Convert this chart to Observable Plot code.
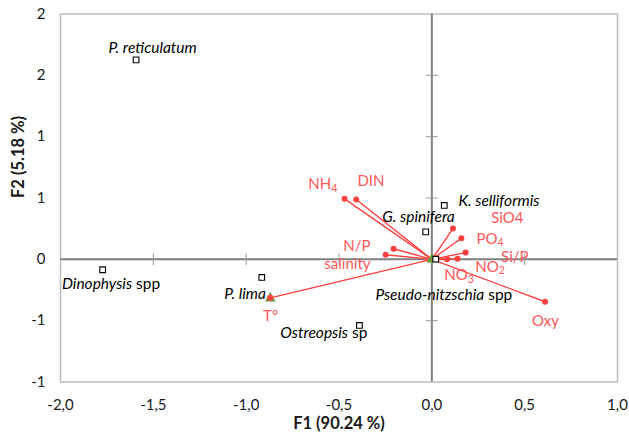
<!DOCTYPE html>
<html>
<head>
<meta charset="utf-8">
<script src="https://cdn.jsdelivr.net/npm/d3@7"></script>
<script src="https://cdn.jsdelivr.net/npm/@observablehq/plot@0.6"></script>
<style>
  html, body { margin: 0; padding: 0; background: #fff; }
  #chart { width: 629px; height: 442px; }
</style>
</head>
<body>
<div id="chart"></div>
<script>
// ---- Data ----
const xTicks = [-2, -1.5, -1, -0.5, 0, 0.5, 1];
const xTickLabels = ["-2,0", "-1,5", "-1,0", "-0,5", "0,0", "0,5", "1,0"];
const yTicks = [-1, -0.5, 0, 0.5, 1, 1.5, 2];
const yTickLabels = ["-1", "-1", "0", "1", "1", "2", "2"];
const xTitle = "F1 (90.24 %)";
const yTitle = "F2 (5.18 %)";

// Species (observations)
const speciesItalic = ["P. reticulatum", "Dinophysis", "P. lima", "Ostreopsis", "G. spinifera", "K. selliformis", "Pseudo-nitzschia"];
const speciesSuffix = ["", " spp", "", " sp", "", "", " spp"];
const speciesX = [-1.593, -1.773, -0.916, -0.390, -0.033, 0.067, 0.021];
const speciesY = [1.626, -0.085, -0.148, -0.539, 0.224, 0.439, 0.001];
const speciesLabelX = [-1.742, -1.992, -1.118, -0.816, -0.267, 0.143, -0.304];
const speciesLabelY = [1.719, -0.205, -0.280, -0.597, 0.341, 0.474, -0.290];

// Environmental variables (vectors)
const varName = ["NH", "DIN", "SiO4", "PO", "Si/P", "NO", "NO", "N/P", "salinity", "Oxy", "T°"];
const varSub  = ["4", "", "", "4", "", "2", "3", "", "", "", ""];
const varX = [-0.470, -0.407, 0.114, 0.159, 0.182, 0.139, 0.082, -0.206, -0.249, 0.610, -0.870];
const varY = [0.493, 0.488, 0.251, 0.172, 0.055, 0.004, 0.001, 0.086, 0.037, -0.346, -0.314];
const varLabelX = [-0.665, -0.401, 0.320, 0.240, 0.373, 0.234, 0.067, -0.477, -0.579, 0.540, -0.909];
const varLabelY = [0.610, 0.637, 0.333, 0.165, 0.016, -0.060, -0.132, 0.105, -0.042, -0.507, -0.467];

// Supplementary (green triangles)
const suppX = [0, -0.870];
const suppY = [0, -0.318];

// ---- Build tables ----
const species = speciesItalic.map((s, i) => ({name: s + speciesSuffix[i], x: speciesX[i], y: speciesY[i], lx: speciesLabelX[i], ly: speciesLabelY[i]}));
const vars = varName.map((s, i) => ({name: s, x: varX[i], y: varY[i], lx: varLabelX[i], ly: varLabelY[i]}));
const supp = suppX.map((x, i) => ({x, y: suppY[i]}));

const tickShape = { draw(context, l) { context.moveTo(0, 0); context.lineTo(0, -l); } };

const red = "#ff4040";
const redText = "#ff5757";
const axisGray = "#808080";
const FONT = "Lato, 'Open Sans', sans-serif";

const chart = Plot.plot({
  width: 629,
  height: 442,
  marginLeft: 60,
  marginRight: 12,
  marginTop: 13.5,
  marginBottom: 60.5,
  style: {fontFamily: FONT, fontSize: "15px", background: "#fff", color: "#000", overflow: "visible"},
  x: {domain: [-2, 1]},
  y: {domain: [-1, 2]},
  marks: [
    Plot.frame({stroke: "#bdbdbd", strokeWidth: 1.5}),
    Plot.axisX({ticks: xTicks, tickSize: 0, tickPadding: 17, tickFormat: d => xTickLabels[xTicks.indexOf(d)], label: null, fontSize: 15, fill: "#1a1a1a"}),
    Plot.axisY({ticks: yTicks, tickSize: 0, tickPadding: 15, tickFormat: d => yTickLabels[yTicks.indexOf(d)], label: null, fontSize: 15, fill: "#1a1a1a"}),
    // center axes
    Plot.ruleX([0], {stroke: axisGray, strokeWidth: 2}),
    Plot.ruleY([0], {stroke: axisGray, strokeWidth: 2}),
    Plot.vector(xTicks.slice(1, -1), {x: d => d, y: 0, length: 11, anchor: "middle", rotate: 0, shape: tickShape, stroke: "#9a9a9a", strokeWidth: 1}),
    Plot.vector(yTicks.slice(1, -1), {x: 0, y: d => d, length: 11, anchor: "middle", rotate: 90, shape: tickShape, stroke: "#9a9a9a", strokeWidth: 1}),
    // vectors
    Plot.link(vars, {x1: 0, y1: 0, x2: "x", y2: "y", stroke: red, strokeWidth: 1.4}),
    Plot.dot(supp, {x: "x", y: "y", symbol: "triangle", r: 4, fill: "#6b9a3a", stroke: "none"}),
    Plot.dot(vars, {x: "x", y: "y", r: 3, fill: red, stroke: "none"}),
    // species
    Plot.dot(species, {x: "x", y: "y", symbol: "square", r: 3.2, fill: "#fff", stroke: "#000", strokeWidth: 1.1}),
    Plot.text(species, {x: "lx", y: "ly", text: d => d.name, textAnchor: "start", lineAnchor: "middle", fontStyle: "italic", fontSize: 15.5, fill: "#000"}),
    Plot.text(vars, {x: "lx", y: "ly", text: "name", textAnchor: "start", lineAnchor: "middle", fontSize: 15, fill: redText}),
    // titles
    Plot.text([xTitle], {frameAnchor: "bottom", dy: 47, text: d => d, fontWeight: "bold", fontSize: 16.5, fill: "#1a1a1a"}),
    Plot.text([yTitle], {frameAnchor: "left", dx: -42, rotate: -90, text: d => d, fontWeight: "bold", fontSize: 16.5, fill: "#1a1a1a"})
  ]
});

document.getElementById("chart").appendChild(chart);

// Post-process: mixed italic/upright species names, subscripts in variable names
const fullNames = species.map(d => d.name);
let vj = 0;
d3.select(chart).selectAll("text").each(function() {
  const el = d3.select(this);
  const content = this.textContent;
  const si = fullNames.indexOf(content);
  if (si >= 0 && speciesSuffix[si]) {
    el.text(null);
    el.append("tspan").text(speciesItalic[si]);
    el.append("tspan").attr("font-style", "normal").text(speciesSuffix[si]);
    return;
  }
  if (vj < varName.length && content === varName[vj]) {
    if (varSub[vj]) {
      el.append("tspan").attr("dy", "0.22em").attr("font-size", "0.7em").text(varSub[vj]);
    }
    vj++;
  }
});
</script>
</body>
</html>
